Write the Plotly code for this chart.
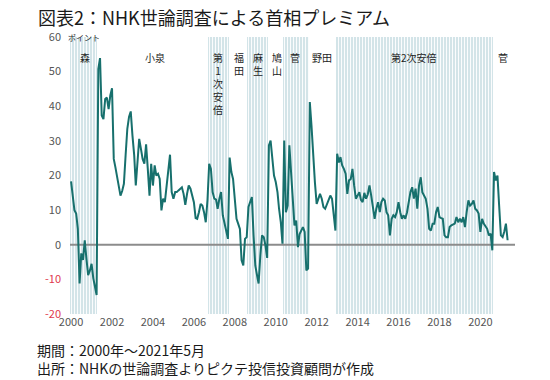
import plotly.graph_objects as go
import pandas as pd

# Monthly NHK premium (points), Jan 2000 - May 2021
premium = [
    18.3, 14, 10, 9, 4.6, -11.2, -2.5, -4.4, 1.3, -4, -8.8, -7.5,          # 2000
    -5.5, -9.7, -12.1, -14.5, 50.7, 53.9, 37.3, 36.3, 42.1, 42.5, 39.2, 43.1,  # 2001
    45.2, 24.8, 22.5, 19.5, 16, 14.2, 15.5, 17.6, 26, 33.5, 37, 38.5,       # 2002
    31.5, 25.8, 17.1, 24, 30.6, 27.7, 24.8, 23.4, 29, 22, 14.2, 23.4,       # 2003
    17.1, 22.9, 20, 20.5, 19, 9.9, 13.3, 12.3, 17.1, 20, 26, 15.2,          # 2004
    13.3, 15.2, 15.2, 15.7, 16.3, 16.6, 14.7, 11.5, 14.7, 17.1, 16.2, 14.2, # 2005
    12.3, 7.7, 7.5, 9.4, 11.8, 11.3, 9.4, 6.5, 13, 23.4, 21.9, 15.2,        # 2006
    13.3, 13, 10.4, 13.3, 15.2, 8.5, 6.5, 3.7, 1.7, 25.2, 21, 19,           # 2007
    12.3, 7.5, 6.1, 4.6, -4.5, -6, 1.7, 2.2, 10.9, 12.3, 13.8, 2.7,         # 2008
    -6, -8.8, -11.2, -3.1, 2.7, 2.2, -0.2, -3.8, 28.7, 30.1, 25.8, 20,      # 2009
    18.1, 15.2, 10.4, 6.5, 0.3, 30.1, 9.4, 11.3, 28.7, 20, 13.3, 5.6,       # 2010
    7, -0.7, 3, 4, 5.1, 3.7, -7.4, -6.9, 41.2, 34.4, 24.8, 18,              # 2011
    11.8, 13.3, 14.7, 13.3, 10.9, 10.4, 11.8, 13.3, 14.2, 13.3, 9.4, 4.1,   # 2012
    26.3, 23.8, 25.3, 22.9, 21.9, 20.5, 14.7, 18.6, 19, 21.9, 17, 13.3,     # 2013
    14.2, 15.2, 13, 12.3, 15, 13.3, 14.5, 17.1, 14.2, 11.3, 7.5, 10.4,      # 2014
    12.3, 9.4, 12.3, 13.3, 12.8, 9.4, 8.5, 2.7, 7.5, 8.5, 8, 9.4,           # 2015
    12.3, 9.4, 7.5, 8.5, 7.5, 9.4, 12.3, 15.2, 16.6, 13.3, 16.2, 10.4,      # 2016
    17.1, 19.5, 15.2, 14.2, 13.3, 10.4, 4.6, 4.1, 6.1, 6.1, 9.4, 10.9,      # 2017
    8, 7.7, 7.5, 2.7, 2.2, 2.2, 5.1, 5.6, 5.8, 6.1, 8, 6.5,                 # 2018
    7.5, 6.5, 8, 5.1, 9.4, 12.8, 11.3, 11.8, 12.8, 10.4, 9.9, 9,            # 2019
    3.7, 7.5, 6.1, 5.1, 4.6, 2.7, 3.2, -1.6, 21, 18.6, 20, 11.3,            # 2020
    2.7, 2.2, 3.7, 6.1, 1.3,                                                # 2021
]
months = pd.date_range("2000-01-01", periods=len(premium), freq="MS")

# Shaded (striped) cabinet periods: (first month, last month)
shaded_periods = [
    ("2000-01-01", "2001-04-01"),  # 森
    ("2006-10-01", "2007-09-01"),  # 第1次安倍
    ("2008-09-01", "2009-08-01"),  # 麻生
    ("2010-06-01", "2011-08-01"),  # 菅
    ("2013-01-01", "2020-08-01"),  # 第2次安倍
]
# Cabinet labels: (text, x-date, vertical?)
pm_labels = [
    ("森", "2000-09-01", False),
    ("小泉", "2004-02-01", False),
    ("第1次安倍", "2007-03-15", True),
    ("福田", "2008-03-15", True),
    ("麻生", "2009-02-15", True),
    ("鳩山", "2010-01-15", True),
    ("菅", "2010-12-15", False),
    ("野田", "2012-04-01", False),
    ("第2次安倍", "2016-10-01", False),
    ("菅", "2021-02-01", False),
]
y_ticks = [-20, -10, 0, 10, 20, 30, 40, 50, 60]
x_tick_years = list(range(2000, 2021, 2))

FONT = "Noto Sans CJK JP"
LINE_COLOR = "#17706d"
STRIPE = "#d3e4e8"

# page has an 8px body margin: figure is shrunk so plot area lands on reference pixels
W, H = 542, 372
L, T = 62, 29
PW, PH = 445, 277

stripe_months = []
for a, b in shaded_periods:
    stripe_months += list(pd.date_range(a, b, freq="MS"))

fig = go.Figure()
fig.add_trace(go.Bar(
    x=stripe_months, y=[80] * len(stripe_months), base=-20,
    width=31 * 86400000,
    marker=dict(color=STRIPE, line=dict(width=0),
                pattern=dict(shape="|", fgcolor="white", bgcolor=STRIPE,
                             size=3, solidity=0.3, fillmode="replace")),
    hoverinfo="skip", showlegend=False,
))
x_range = ["1999-12-13", "2021-09-10"]
fig.add_trace(go.Scatter(
    x=x_range, y=[0, 0], mode="lines",
    line=dict(color="#8c8c8c", width=2), hoverinfo="skip", showlegend=False,
))
fig.add_trace(go.Scatter(
    x=months, y=premium, mode="lines",
    line=dict(color=LINE_COLOR, width=2), showlegend=False,
))

ticktext = []
for v in y_ticks:
    if v < 0:
        ticktext.append(f'<span style="color:#e0394d">{v}</span>')
    else:
        ticktext.append(str(v))

fig.update_layout(
    width=W, height=H,
    margin=dict(l=L, r=W - L - PW, t=T, b=H - T - PH),
    paper_bgcolor="white", plot_bgcolor="white",
    font=dict(family=FONT, color="#555555", size=11),
    title=dict(text="図表2：NHK世論調査による首相プレミアム",
               x=30 / W, xanchor="left", y=1 - 11 / H, yanchor="middle",
               font=dict(family=FONT, size=18, color="#1a1a1a")),
    xaxis=dict(type="date", range=x_range, showgrid=False, zeroline=False,
               showline=False, tickmode="array",
               tickvals=[f"{y}-01-01" for y in x_tick_years],
               ticktext=[str(y) for y in x_tick_years],
               tickfont=dict(size=11, color="#555555"), ticks=""),
    yaxis=dict(range=[-20, 60], showgrid=False, zeroline=False, showline=False,
               tickmode="array", tickvals=y_ticks, ticktext=ticktext,
               tickfont=dict(size=11, color="#555555"), ticks="",
               ticklabelstandoff=8),
    bargap=0,
)

for text, xd, vertical in pm_labels:
    t = "<br>".join(list(text)) if vertical else text
    fig.add_annotation(x=xd, y=56.9, xref="x", yref="y", text=t,
                       showarrow=False, xanchor="center", yanchor="top",
                       font=dict(family=FONT, size=10, color="#222222"))

fig.add_annotation(x=-0.009, y=60, xref="paper", yref="y", text="ポイント",
                   showarrow=False, xanchor="left", yanchor="middle",
                   font=dict(family=FONT, size=8, color="#222222"))
fig.add_annotation(x=-35 / PW, y=(314 - 350) / PH, xref="paper", yref="paper",
                   text="期間：2000年～2021年5月", showarrow=False,
                   xanchor="left", yanchor="middle",
                   font=dict(family=FONT, size=14, color="#1a1a1a"))
fig.add_annotation(x=-35 / PW, y=(314 - 368) / PH, xref="paper", yref="paper",
                   text="出所：NHKの世論調査よりピクテ投信投資顧問が作成", showarrow=False,
                   xanchor="left", yanchor="middle",
                   font=dict(family=FONT, size=14, color="#1a1a1a"))

fig.write_html("out.html")
